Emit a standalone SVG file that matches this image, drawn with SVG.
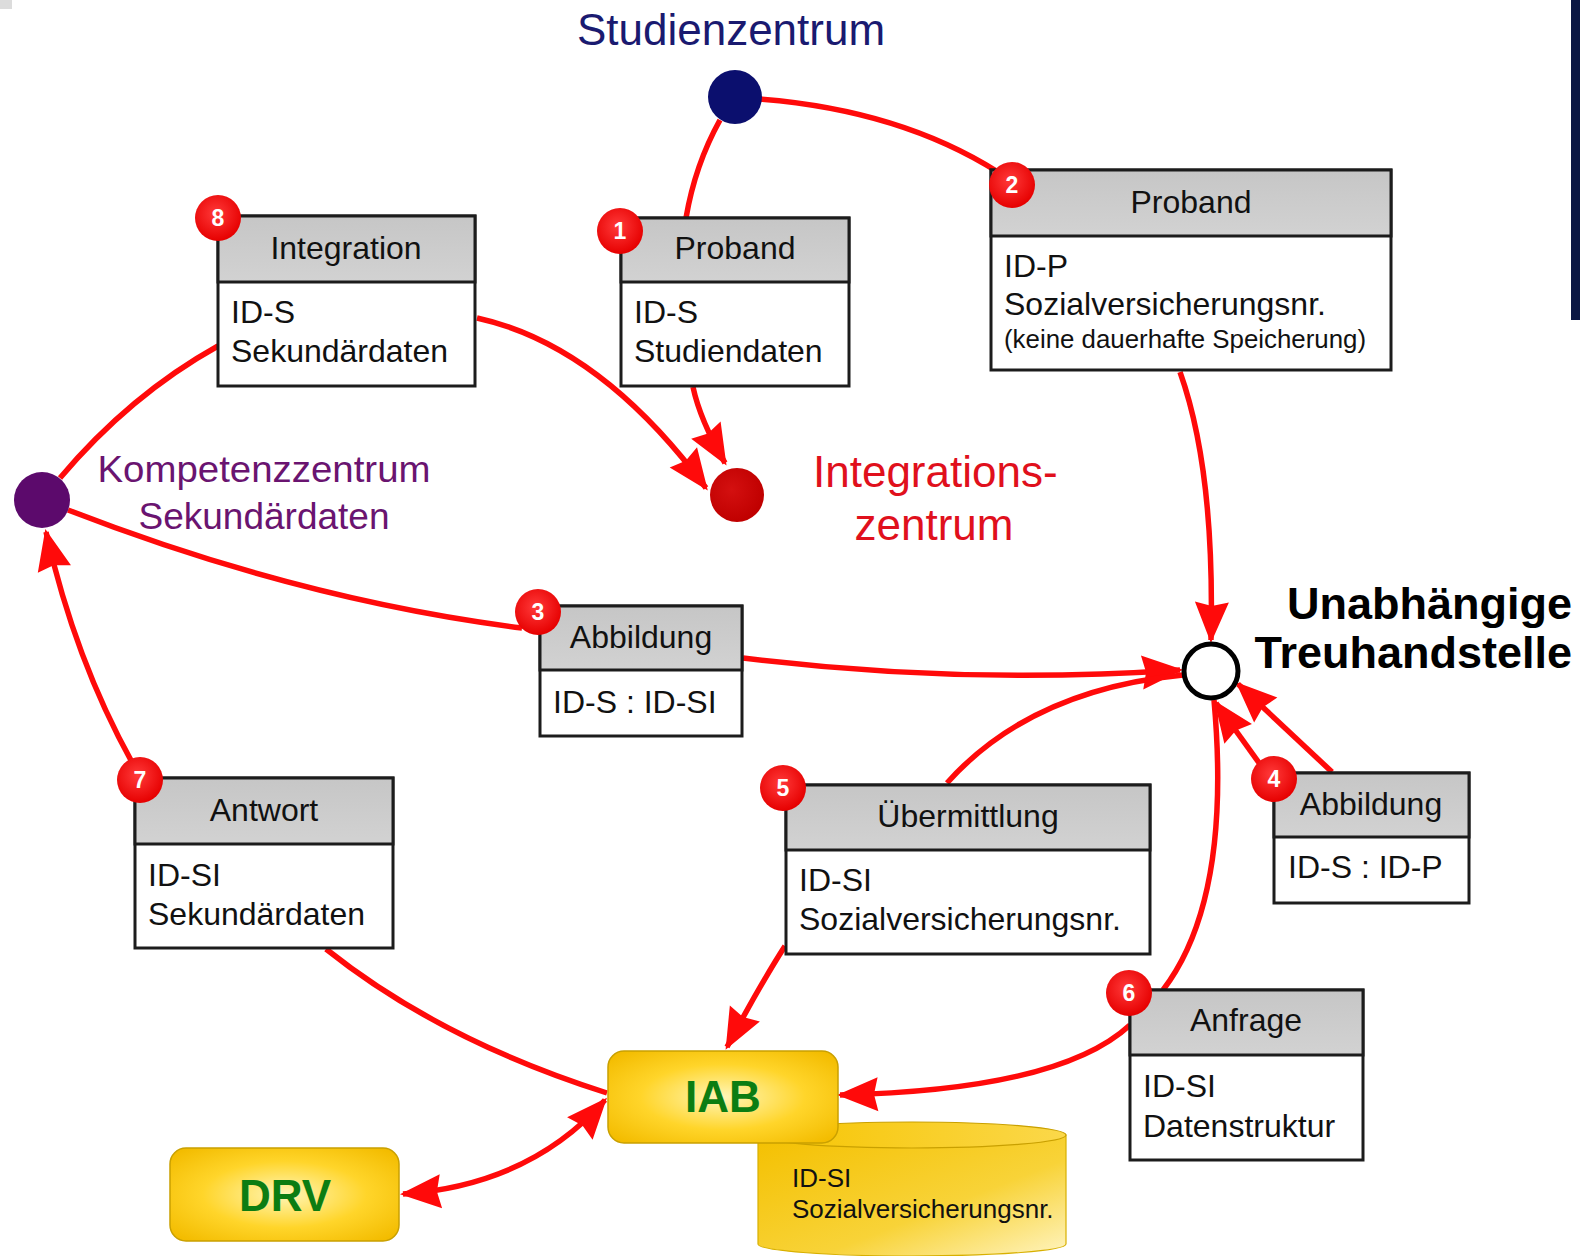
<svg xmlns="http://www.w3.org/2000/svg" width="1580" height="1256" viewBox="0 0 1580 1256">
<style>
.hdr{fill:url(#hdrG);stroke:#1c1c1c;stroke-width:3}
.body{fill:#ffffff;stroke:#1c1c1c;stroke-width:3}
.t{font-family:"Liberation Sans",Arial,sans-serif;font-size:32px;fill:#111}
.tc{font-family:"Liberation Sans",Arial,sans-serif;font-size:32px;fill:#111;text-anchor:middle}
.small{font-family:"Liberation Sans",Arial,sans-serif;font-size:26px;fill:#111}
.badge{fill:url(#badgeG)}
.bn{font-family:"Liberation Sans",Arial,sans-serif;font-size:23px;font-weight:bold;fill:#fff;text-anchor:middle}
.con{fill:none;stroke:#ff0a0a;stroke-width:5.5}
.arr{marker-end:url(#ah)}
.ybox{fill:url(#yG);stroke:#c9a000;stroke-width:1.5}
.ylab{font-family:"Liberation Sans",Arial,sans-serif;font-size:44px;font-weight:bold;fill:#0c7d12;text-anchor:middle}
</style>
<defs>
<linearGradient id="hdrG" x1="0" y1="0" x2="0" y2="1"><stop offset="0" stop-color="#c6c6c6"/><stop offset="1" stop-color="#d2d2d2"/></linearGradient>
<radialGradient id="badgeG" cx="0.45" cy="0.4" r="0.6"><stop offset="0" stop-color="#ff3a3a"/><stop offset="1" stop-color="#e60000"/></radialGradient>
<radialGradient id="redG" cx="0.4" cy="0.4" r="0.6"><stop offset="0" stop-color="#d41010"/><stop offset="1" stop-color="#c00000"/></radialGradient>
<radialGradient id="yG" cx="0.5" cy="0.5" r="0.65"><stop offset="0" stop-color="#fff6b8"/><stop offset="0.55" stop-color="#ffd52a"/><stop offset="1" stop-color="#f3bc00"/></radialGradient>
<linearGradient id="cylG" x1="0" y1="0" x2="1" y2="1"><stop offset="0" stop-color="#f4c000"/><stop offset="0.6" stop-color="#f8d338"/><stop offset="1" stop-color="#fff4c0"/></linearGradient>
<linearGradient id="cylTop" x1="0" y1="0" x2="1" y2="0"><stop offset="0" stop-color="#f6c400"/><stop offset="1" stop-color="#fbd84a"/></linearGradient>
<marker id="ah" markerUnits="userSpaceOnUse" markerWidth="48" markerHeight="40" viewBox="-42 -20 48 40" refX="0" refY="0" orient="auto-start-reverse" overflow="visible">
<path d="M3,0 L-38,-17 L-34,0 L-38,17 Z" fill="#ff0a0a"/>
</marker>
</defs>
<rect x="0" y="0" width="1580" height="1256" fill="#ffffff"/>
<rect x="0" y="0" width="12" height="9" fill="#dcdcdc"/>
<rect x="1571" y="0" width="9" height="320" fill="#0b1744"/>

<g id="connectors">
<path class="con" d="M720,120 Q695,165 686,218"/>
<path class="con" d="M760,99 Q900,110 998,172"/>
<path class="con arr" d="M693,387 Q700,420 725,463"/>
<path class="con arr" d="M477,318 Q600,345 706,488"/>
<path class="con" d="M218,346 Q130,395 60,478"/>
<path class="con" d="M68,510 Q300,600 522,628"/>
<path class="con arr" d="M743,658 Q960,685 1180,670"/>
<path class="con arr" d="M1180,372 Q1215,470 1211,640"/>
<path class="con" d="M947,783 Q1030,690 1183,675"/>
<path class="con arr" d="M785,946 Q760,985 727,1047"/>
<path class="con arr" d="M1262,767 L1216,703"/>
<path class="con arr" d="M1332,772 L1238,684"/>
<path class="con" d="M1214,700 Q1232,900 1163,990"/>
<path class="con arr" d="M1130,1025 Q1060,1090 840,1095"/>
<path class="con" d="M326,949 Q440,1040 607,1093"/>
<path class="con arr" d="M133,764 Q75,660 46,532"/>
<path class="con arr" d="M605,1100 Q530,1185 403,1194" marker-start="url(#ah)"/>
</g>

<g id="studienzentrum">
<circle cx="735" cy="97" r="27" fill="#0b0f6e"/>
<text x="731" y="45" font-family="Liberation Sans, Arial, sans-serif" font-size="44" fill="#1a1a70" text-anchor="middle">Studienzentrum</text>
</g>

<g id="kompetenzzentrum">
<circle cx="42" cy="500" r="28" fill="#5c0a6c"/>
<text x="264" y="482" font-family="Liberation Sans, Arial, sans-serif" font-size="37" fill="#6a1470" text-anchor="middle" textLength="333" lengthAdjust="spacingAndGlyphs">Kompetenzzentrum</text>
<text x="264" y="529" font-family="Liberation Sans, Arial, sans-serif" font-size="37" fill="#6a1470" text-anchor="middle">Sekundärdaten</text>
</g>

<g id="integrationszentrum">
<circle cx="737" cy="495" r="27" fill="url(#redG)"/>
<text x="813" y="487" font-family="Liberation Sans, Arial, sans-serif" font-size="44" fill="#e0101c">Integrations-</text>
<text x="934" y="540" font-family="Liberation Sans, Arial, sans-serif" font-size="44" fill="#e0101c" text-anchor="middle">zentrum</text>
</g>

<g id="treuhandstelle">
<circle cx="1211" cy="671" r="27" fill="#ffffff" stroke="#000" stroke-width="5"/>
<text x="1572" y="619" font-family="Liberation Sans, Arial, sans-serif" font-size="45" font-weight="bold" fill="#000" text-anchor="end">Unabhängige</text>
<text x="1572" y="668" font-family="Liberation Sans, Arial, sans-serif" font-size="45" font-weight="bold" fill="#000" text-anchor="end">Treuhandstelle</text>
</g>

<g id="box-integration">
<rect class="body" x="218" y="216" width="257" height="170"/>
<rect class="hdr" x="218" y="216" width="257" height="66"/>
<text class="tc" x="346" y="259">Integration</text>
<text class="t" x="231" y="323">ID-S</text>
<text class="t" x="231" y="362">Sekundärdaten</text>
<circle class="badge" cx="218" cy="218" r="23"/>
<text class="bn" x="218" y="226">8</text>
</g>

<g id="box-proband1">
<rect class="body" x="621" y="218" width="228" height="168"/>
<rect class="hdr" x="621" y="218" width="228" height="64"/>
<text class="tc" x="735" y="259">Proband</text>
<text class="t" x="634" y="323">ID-S</text>
<text class="t" x="634" y="362">Studiendaten</text>
<circle class="badge" cx="620" cy="231" r="23"/>
<text class="bn" x="620" y="239">1</text>
</g>

<g id="box-proband2">
<rect class="body" x="991" y="170" width="400" height="200"/>
<rect class="hdr" x="991" y="170" width="400" height="66"/>
<text class="tc" x="1191" y="213">Proband</text>
<text class="t" x="1004" y="277">ID-P</text>
<text class="t" x="1004" y="315">Sozialversicherungsnr.</text>
<text class="small" x="1004" y="348" textLength="362" lengthAdjust="spacingAndGlyphs">(keine dauerhafte Speicherung)</text>
<circle class="badge" cx="1012" cy="185" r="23"/>
<text class="bn" x="1012" y="193">2</text>
</g>

<g id="box-abbildung3">
<rect class="body" x="540" y="606" width="202" height="130"/>
<rect class="hdr" x="540" y="606" width="202" height="64"/>
<text class="tc" x="641" y="648">Abbildung</text>
<text class="t" x="553" y="713">ID-S : ID-SI</text>
<circle class="badge" cx="538" cy="612" r="23"/>
<text class="bn" x="538" y="620">3</text>
</g>

<g id="box-abbildung4">
<rect class="body" x="1274" y="773" width="195" height="130"/>
<rect class="hdr" x="1274" y="773" width="195" height="64"/>
<text class="tc" x="1371" y="815">Abbildung</text>
<text class="t" x="1288" y="878">ID-S : ID-P</text>
<circle class="badge" cx="1274" cy="779" r="23"/>
<text class="bn" x="1274" y="787">4</text>
</g>

<g id="box-uebermittlung">
<rect class="body" x="786" y="785" width="364" height="169"/>
<rect class="hdr" x="786" y="785" width="364" height="65"/>
<text class="tc" x="968" y="827">Übermittlung</text>
<text class="t" x="799" y="891">ID-SI</text>
<text class="t" x="799" y="930">Sozialversicherungsnr.</text>
<circle class="badge" cx="783" cy="788" r="23"/>
<text class="bn" x="783" y="796">5</text>
</g>

<g id="box-antwort">
<rect class="body" x="135" y="778" width="258" height="170"/>
<rect class="hdr" x="135" y="778" width="258" height="66"/>
<text class="tc" x="264" y="821">Antwort</text>
<text class="t" x="148" y="886">ID-SI</text>
<text class="t" x="148" y="925">Sekundärdaten</text>
<circle class="badge" cx="140" cy="780" r="23"/>
<text class="bn" x="140" y="788">7</text>
</g>

<g id="box-anfrage">
<rect class="body" x="1130" y="990" width="233" height="170"/>
<rect class="hdr" x="1130" y="990" width="233" height="65"/>
<text class="tc" x="1246" y="1031">Anfrage</text>
<text class="t" x="1143" y="1097">ID-SI</text>
<text class="t" x="1143" y="1137">Datenstruktur</text>
<circle class="badge" cx="1129" cy="993" r="23"/>
<text class="bn" x="1129" y="1001">6</text>
</g>

<g id="datenbank">
<path d="M758,1135 L758,1244 A154,12 0 0 0 1066,1244 L1066,1135 Z" fill="url(#cylG)" stroke="#d8b000" stroke-width="1.2"/>
<ellipse cx="912" cy="1135" rx="154" ry="13" fill="url(#cylTop)" stroke="#c9a000" stroke-width="1.2"/>
<text class="small" x="792" y="1187">ID-SI</text>
<text class="small" x="792" y="1218">Sozialversicherungsnr.</text>
</g>

<g id="iab">
<rect class="ybox" x="608" y="1051" width="230" height="92" rx="16"/>
<text class="ylab" x="723" y="1112">IAB</text>
</g>

<g id="drv">
<rect class="ybox" x="170" y="1148" width="229" height="93" rx="16"/>
<text class="ylab" x="285" y="1211">DRV</text>
</g>
</svg>
